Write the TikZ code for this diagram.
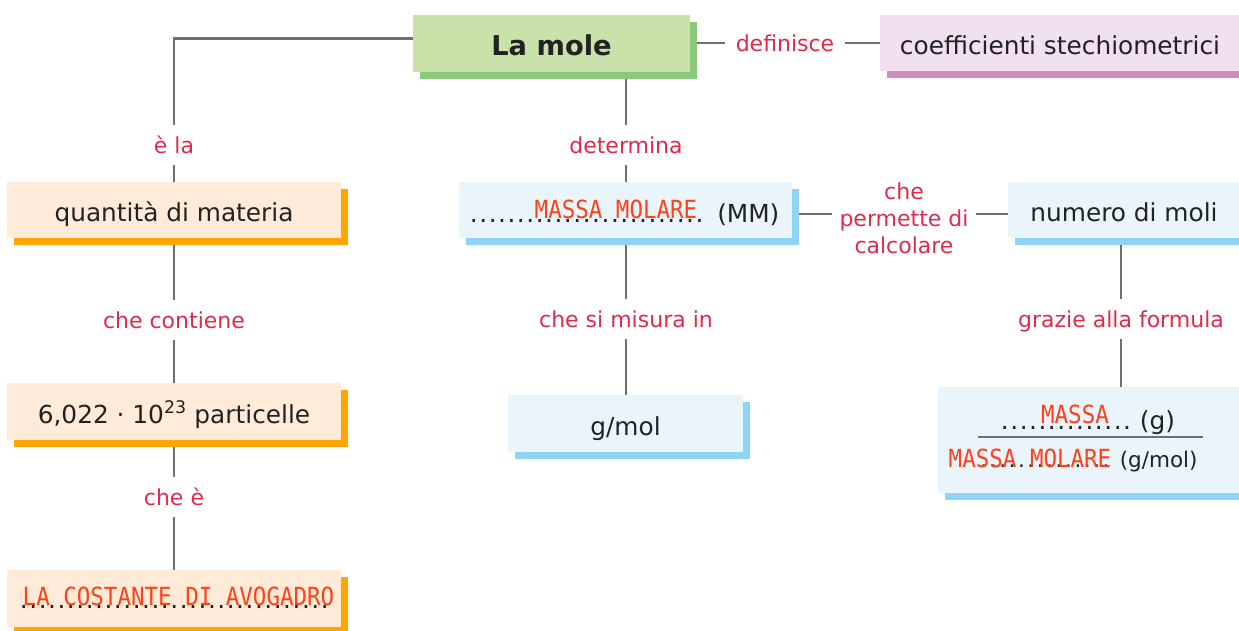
\documentclass[tikz,border=0pt]{standalone}
\usepackage{fontspec}
\setmainfont{DejaVu Sans}
\newfontfamily\handfont[FakeStretch=0.9]{DejaVu Sans Mono}
\usetikzlibrary{shadows,backgrounds}
\definecolor{gfill}{HTML}{C9E2A9}
\definecolor{gshad}{HTML}{8BC97C}
\definecolor{pfill}{HTML}{F0E0F0}
\definecolor{pshad}{HTML}{D18BC0}
\definecolor{ofill}{HTML}{FFEBD7}
\definecolor{oshad}{HTML}{FFA500}
\definecolor{bfill}{HTML}{EAF5FB}
\definecolor{bshad}{HTML}{8ED5F5}
\definecolor{labred}{HTML}{E02A4B}
\definecolor{handred}{HTML}{FF4119}
\definecolor{linec}{HTML}{6F6F6F}
\definecolor{txt}{HTML}{222222}
\newcommand\dotline[1]{\hbox to #1{\leaders\hbox to 9.4pt{\hss.\hss}\hfill}}
\begin{document}
\begin{tikzpicture}[x=1pt,y=-1pt,
  box/.style={inner sep=0pt, align=center, text=txt, font=\fontsize{24.8}{29}\selectfont,
    text height=23pt, text depth=0pt,
    general shadow={fill=#1, shadow xshift=7pt, shadow yshift=-7pt}},
  gbox/.style={box=gshad, fill=gfill},
  pbox/.style={box=pshad, fill=pfill},
  obox/.style={box=oshad, fill=ofill},
  bbox/.style={box=bshad, fill=bfill},
  lbl/.style={text=labred, font=\fontsize{22}{27}\selectfont, inner xsep=11pt, inner ysep=0pt,
    text height=16pt, text depth=0pt, minimum height=40pt, align=center},
  conn/.style={draw=linec, line width=2.7pt},
  plain/.style={inner sep=0pt, text=txt, anchor=base west},
  hand/.style={text=handred, font=\handfont\fontsize{25}{27}\selectfont, inner sep=0pt, anchor=base}
]
\useasboundingbox (0,0) rectangle (1239,630);
\clip (0,0) rectangle (1239,630);

% label nodes
\node[lbl] (ela) at (174,145) {è la};
\node[lbl] (contiene) at (174,320) {che contiene};
\node[lbl] (chee) at (174,497) {che è};
\node[lbl] (determina) at (626,145) {determina};
\node[lbl] (misura) at (626,319) {che si misura in};
\node[lbl] (grazie) at (1121,319) {grazie alla formula};
\node[lbl] (def) at (785,43) {definisce};
\node[lbl, inner xsep=7pt, text height=, text depth=] (perm) at (904,218) {che\\permette di\\calcolare};

% boxes
\node[gbox, minimum width=277pt, minimum height=57pt, font=\bfseries\fontsize{27.3}{31}\selectfont] (lamole) at (551.5,43.5) {La mole};
\node[pbox, minimum width=360pt, minimum height=56pt] (coeff) at (1060,43) {coefficienti stechiometrici};
\node[obox, minimum width=334pt, minimum height=56pt] (quant) at (174,210) {quantità di materia};
\node[obox, minimum width=334pt, minimum height=57pt] (part) at (174,411.5) {6,022 · 10\textsuperscript{23} particelle};
\node[obox, minimum width=334pt, minimum height=57pt] (avog) at (174,598.5) {};
\node[bbox, minimum width=333pt, minimum height=56pt] (mm) at (625.5,210) {};
\node[bbox, minimum width=235pt, minimum height=57pt] (gmol) at (625.5,423.5) {g/mol};
\node[bbox, minimum width=232pt, minimum height=56pt] (moli) at (1124,210) {numero di moli};
\node[bbox, minimum width=304pt, minimum height=106pt] (formula) at (1090,440) {};

% dotted answer lines
\node[plain, font=\fontsize{24.8}{29}\selectfont] (avogdots) at (19,608) {\dotline{310.2pt}};
\node[plain, font=\fontsize{24.8}{29}\selectfont] (mmdots) at (469,222) {\dotline{235pt}\hspace{13pt}(MM)};
\node[plain, font=\fontsize{24.8}{29}\selectfont] (ftop) at (1000,429) {\dotline{131.6pt}\hspace{8pt}(g)};
\node[plain, font=\fontsize{21.5}{25}\selectfont] (fbot) at (979,467) {\dotline{131.6pt}\hspace{9pt}(g/mol)};
\coordinate (barl) at (978,437);
\coordinate (barr) at (1203,437);
\draw[draw=linec, line width=1.3pt] (barl) -- (barr);

% handwritten answers
\node[hand] (hmm) at (616,218) {MASSA MOLARE};
\node[hand] (hav) at (178.5,605) {LA COSTANTE DI AVOGADRO};
\node[hand] (hmassa) at (1075,423) {MASSA};
\node[hand] (hmm2) at (1030,467) {MASSA MOLARE};

% connectors
\begin{pgfonlayer}{background}
\draw[conn] ([yshift=5pt]lamole.west) -| (ela.north);
\draw[conn] (ela.south) -- (quant.north);
\draw[conn] (quant.south) -- (contiene.north);
\draw[conn] (contiene.south) -- (part.north);
\draw[conn] (part.south) -- (chee.north);
\draw[conn] (chee.south) -- (avog.north);
\draw[conn] (determina.north |- lamole.south) -- (determina.north);
\draw[conn] (determina.south) -- (determina.south |- mm.north);
\draw[conn] (misura.north |- mm.south) -- (misura.north);
\draw[conn] (misura.south) -- (misura.south |- gmol.north);
\draw[conn] (def.west -| lamole.east) -- (def.west);
\draw[conn] (def.east) -- (def.east -| coeff.west);
\draw[conn] ([yshift=-4pt]mm.east) -- ([yshift=4pt]perm.west);
\draw[conn] ([yshift=4pt]perm.east) -- ([yshift=-4pt]moli.west);
\draw[conn] (grazie.north |- moli.south) -- (grazie.north);
\draw[conn] (grazie.south) -- (grazie.south |- formula.north);
\end{pgfonlayer}
\end{tikzpicture}
\end{document}
